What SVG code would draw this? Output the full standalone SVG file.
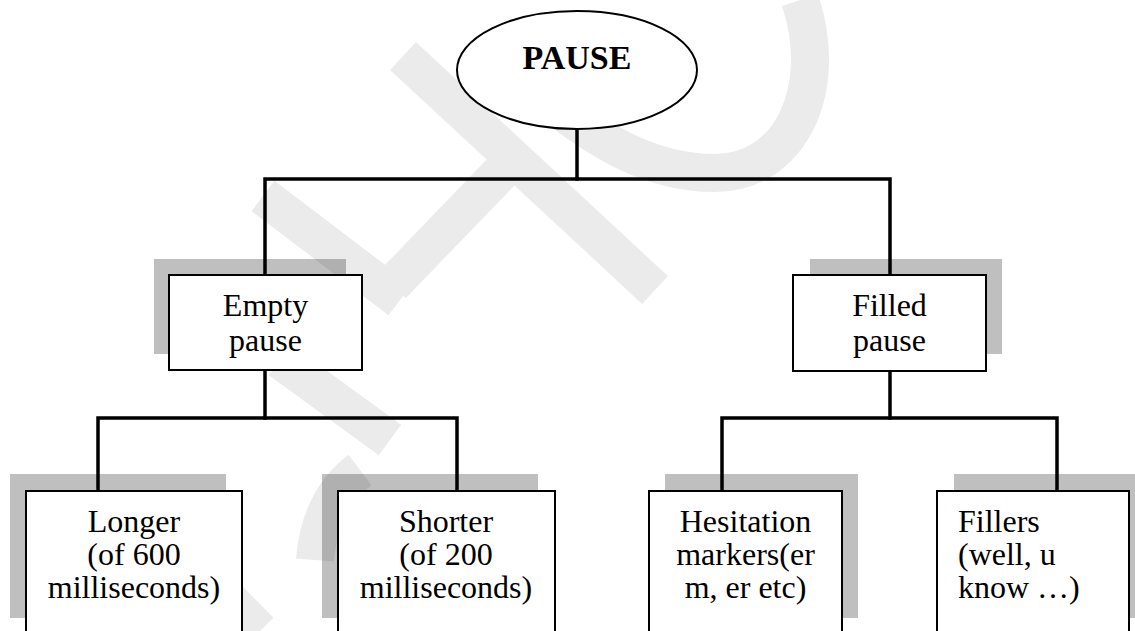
<svg xmlns="http://www.w3.org/2000/svg" width="1135" height="631" viewBox="0 0 1135 631">
<style>
.bg{fill:#ffffff}
.shadow{fill:#000000;fill-opacity:0.25}
.box{fill:#ffffff;stroke:#000000;stroke-width:2}
.conn{fill:none;stroke:#000000;stroke-width:3.5;stroke-linecap:square;stroke-linejoin:miter}
.t{font-family:"Liberation Serif","Times New Roman",serif;font-size:32px;fill:#000000;text-anchor:middle}
.tl{text-anchor:start}
.title{font-weight:bold;font-size:34px}
.wm{fill:none;stroke:#ebebeb;stroke-width:38;stroke-linecap:butt}
</style>
<rect class="bg" x="0" y="0" width="1135" height="631"/>

<g id="watermark">
<line class="wm" x1="403" y1="56" x2="655" y2="290"/>
<line class="wm" x1="505" y1="168" x2="392" y2="285"/>
<line class="wm" x1="263" y1="196" x2="400" y2="300"/>
<path class="wm" d="M 800 0 C 830 90 790 173 715 173 C 650 173 600 140 560 110"/>
<line class="wm" x1="280" y1="360" x2="390" y2="440"/>
<line class="wm" x1="180" y1="550" x2="260" y2="631"/>
<path class="wm" d="M 360 470 Q 320 500 315 560"/>
</g>

<g id="connectors">
<line class="conn" x1="577" y1="130" x2="577" y2="179"/>
<polyline class="conn" points="265,274 265,179 890,179 890,274"/>
<line class="conn" x1="265" y1="370" x2="265" y2="418"/>
<polyline class="conn" points="98,491 98,418 457,418 457,491"/>
<line class="conn" x1="890" y1="371" x2="890" y2="418"/>
<polyline class="conn" points="722,491 722,418 1057,418 1057,491"/>
</g>

<g id="pause">
<ellipse cx="577" cy="70" rx="120" ry="59" fill="#ffffff" stroke="#000000" stroke-width="2"/>
<text class="t title" x="577" y="69">PAUSE</text>
</g>

<g id="empty-pause">
<rect class="shadow" x="154" y="259" width="192" height="95"/>
<rect class="box" x="169" y="275" width="193" height="95"/>
<text class="t" x="265.5" y="316">Empty</text>
<text class="t" x="265.5" y="351">pause</text>
</g>

<g id="filled-pause">
<rect class="shadow" x="810" y="259" width="192" height="95"/>
<rect class="box" x="793" y="275" width="193" height="96"/>
<text class="t" x="889.5" y="316">Filled</text>
<text class="t" x="889.5" y="351">pause</text>
</g>

<g id="longer">
<rect class="shadow" x="10" y="474" width="216" height="144"/>
<rect class="box" x="26" y="491" width="216" height="160"/>
<text class="t" x="134" y="532">Longer</text>
<text class="t" x="134" y="565">(of 600</text>
<text class="t" x="134" y="598">milliseconds)</text>
</g>

<g id="shorter">
<rect class="shadow" x="322" y="474" width="216" height="144"/>
<rect class="box" x="338" y="491" width="217" height="160"/>
<text class="t" x="446" y="532">Shorter</text>
<text class="t" x="446" y="565">(of 200</text>
<text class="t" x="446" y="598">milliseconds)</text>
</g>

<g id="hesitation-markers">
<rect class="shadow" x="665" y="474" width="193" height="144"/>
<rect class="box" x="649" y="491" width="193" height="160"/>
<text class="t" x="745.5" y="532">Hesitation</text>
<text class="t" x="745.5" y="565">markers(er</text>
<text class="t" x="745.5" y="598">m, er etc)</text>
</g>

<g id="fillers">
<rect class="shadow" x="954" y="474" width="192" height="144"/>
<rect class="box" x="937" y="491" width="192" height="160"/>
<text class="t tl" x="958" y="532">Fillers</text>
<text class="t tl" x="958" y="565">(well, u</text>
<text class="t tl" x="958" y="598">know …)</text>
</g>
</svg>
